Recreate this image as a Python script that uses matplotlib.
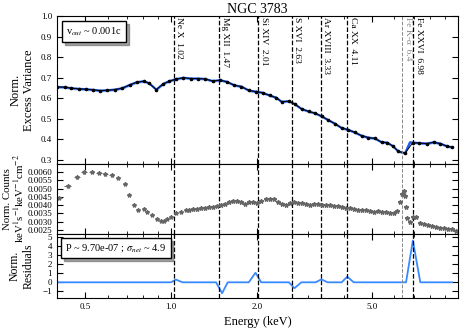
import matplotlib
matplotlib.use('Agg')
import matplotlib.pyplot as plt
import numpy as np

plt.rcParams['font.family'] = 'serif'
plt.rcParams['font.serif'] = ['Liberation Serif', 'DejaVu Serif']
plt.rcParams['mathtext.fontset'] = 'stix'

# excess variance (data) vs energy
var_e = [0.400, 0.425, 0.449, 0.476, 0.505, 0.535, 0.567, 0.598, 0.635, 0.675,
         0.717, 0.758, 0.804, 0.838, 0.888, 0.938, 0.984, 1.039, 1.102, 1.172,
         1.243, 1.312, 1.395, 1.481, 1.566, 1.662, 1.758, 1.865, 1.979, 2.083,
         2.203, 2.326, 2.427, 2.574, 2.695, 2.851, 3.017, 3.180, 3.350, 3.532,
         3.720, 3.926, 4.141, 4.370, 4.613, 4.864, 5.134, 5.420, 5.655, 5.923,
         6.194, 6.540, 6.960, 7.340, 7.790, 8.220, 8.670, 9.150, 9.530]
var_v = [0.655, 0.654, 0.649, 0.646, 0.644, 0.641, 0.637, 0.639, 0.642, 0.649,
         0.665, 0.678, 0.683, 0.673, 0.642, 0.670, 0.683, 0.693, 0.700, 0.696,
         0.696, 0.694, 0.684, 0.688, 0.680, 0.663, 0.657, 0.638, 0.632, 0.627,
         0.614, 0.603, 0.583, 0.586, 0.572, 0.548, 0.536, 0.527, 0.512, 0.494,
         0.477, 0.456, 0.447, 0.434, 0.418, 0.409, 0.405, 0.386, 0.385, 0.368,
         0.342, 0.333, 0.385, 0.382, 0.380, 0.386, 0.380, 0.367, 0.362]
# model adds a point just above the Fe K line
model_extra_e = 6.80
model_extra_v = 0.386
model_band = 0.006

# spectrum: low energy wide bins
spec_lo_e = [0.405, 0.436, 0.470, 0.496, 0.528, 0.560, 0.590, 0.620, 0.652, 0.689,
             0.713, 0.742, 0.768, 0.804, 0.826, 0.860, 0.895, 0.920, 0.945, 0.971,
             0.998, 1.039, 1.081, 1.126]
spec_lo_v = [0.00446, 0.00516, 0.00570, 0.00600, 0.00600, 0.00594, 0.00586, 0.00580,
             0.00566, 0.00530, 0.00464, 0.00400, 0.00374, 0.00380, 0.00360, 0.00340,
             0.00314, 0.00306, 0.00306, 0.00314, 0.00330, 0.00350, 0.00360, 0.00370]
spec_lo_xerr = [0.011, 0.013, 0.013, 0.012, 0.012, 0.012, 0.011, 0.011, 0.011, 0.009,
                0.007, 0.006, 0.006, 0.006, 0.005, 0.005, 0.005, 0.005, 0.005, 0.005,
                0.005, 0.005, 0.005, 0.005]
spec_lo_yerr = [0.00010, 0.00010, 0.00009, 0.00009, 0.00008, 0.00008, 0.00007, 0.00007,
                0.00007, 0.00006, 0.00006, 0.00005, 0.00005, 0.00005, 0.00004, 0.00004,
                0.00004, 0.00004, 0.00004, 0.00004, 0.00004, 0.00004, 0.00004, 0.00004]
# spectrum: dense bins
spec_e = [1.156, 1.194, 1.233, 1.273, 1.315, 1.358, 1.403, 1.449, 1.496, 1.545,
          1.596, 1.648, 1.702, 1.758, 1.816, 1.875, 1.936, 2.000, 2.065, 2.133,
          2.203, 2.275, 2.350, 2.427, 2.506, 2.588, 2.673, 2.761, 2.851, 2.944,
          3.041, 3.140, 3.243, 3.350, 3.459, 3.573, 3.690, 3.811, 3.936, 4.064,
          4.198, 4.335, 4.477, 4.624, 4.775, 4.932, 5.093, 5.260, 5.432, 5.610,
          5.794, 5.984, 6.130, 6.280, 6.380, 6.490, 6.540, 6.590, 6.660, 6.810,
          6.980, 7.140, 7.380, 7.620, 7.870, 8.130, 8.400, 8.670, 8.960, 9.250,
          9.550, 9.860]
spec_v = [0.00372, 0.00375, 0.00380, 0.00384, 0.00386, 0.00390, 0.00392, 0.00396, 0.00400, 0.00410,
          0.00420, 0.00428, 0.00426, 0.00418, 0.00408, 0.00418, 0.00420, 0.00414, 0.00428, 0.00436,
          0.00440, 0.00436, 0.00422, 0.00408, 0.00404, 0.00414, 0.00418, 0.00416, 0.00414, 0.00408,
          0.00404, 0.00406, 0.00410, 0.00404, 0.00402, 0.00400, 0.00398, 0.00394, 0.00392, 0.00386,
          0.00382, 0.00378, 0.00374, 0.00370, 0.00368, 0.00364, 0.00360, 0.00362, 0.00358, 0.00356,
          0.00352, 0.00354, 0.00362, 0.00420, 0.00470, 0.00488, 0.00455, 0.00390, 0.00320, 0.00300,
          0.00330, 0.00328, 0.00292, 0.00284, 0.00278, 0.00272, 0.00270, 0.00264, 0.00262, 0.00256,
          0.00254, 0.00246]

# residuals
res_e = [0.40, 0.998, 1.039, 1.095, 1.434, 1.505, 1.575, 1.865, 1.968, 2.06, 2.575, 2.69,
         2.843, 3.19, 3.34, 3.51, 3.93, 4.11, 4.33, 6.59, 6.96, 7.39, 9.54]
res_v = [0, 0, 0.3, 0, 0, -1.2, 0, 0, 1.05, 0, 0, -0.65, 0, 0, 0.33, 0, 0, 0.62, 0, 0, 4.6, 0, 0]

lines_e = [1.02, 1.47, 2.01, 2.63, 3.33, 4.11, 6.4, 6.98]
lines_lab = ['Ne X  1.02', 'Mg XII  1.47', 'Si XIV  2.01', 'S XVI  2.63',
             'Ar XVIII  3.33', 'Ca XX  4.11', 'Fe K-\u03b1  6.4', 'Fe XXVI  6.98']

fig = plt.figure(figsize=(4.63, 3.28), dpi=100)
L, W = 0.1231, 0.8661
ax1 = fig.add_axes([L, 0.5015, W, 0.4497])
ax2 = fig.add_axes([L, 0.2866, W, 0.2149], sharex=ax1)
ax3 = fig.add_axes([L, 0.0924, W, 0.1942], sharex=ax1)

# model curve
me = np.insert(np.array(var_e), 52, model_extra_e)
mv = np.insert(np.array(var_v), 52, model_extra_v)
ax1.fill_between(me, mv - model_band, mv + model_band, color='#8fc0ff', lw=0)
ax1.plot(me, mv, color='#1e5cf0', lw=1.6)
ax1.plot(var_e, var_v, color='k', lw=0.7, marker='o', ms=1.6)

ax2.errorbar(spec_lo_e, spec_lo_v, xerr=spec_lo_xerr, yerr=spec_lo_yerr, fmt='*',
             color='#666666', ms=3, elinewidth=0.7, capsize=0)
ax2.errorbar(spec_e, spec_v, yerr=0.00003, fmt='*', color='#666666', ms=3.2,
             elinewidth=0.6, capsize=0)

ax3.plot(res_e, res_v, color='#3a8aff', lw=1.3)

for ax in (ax1, ax2, ax3):
    for e in lines_e:
        if e == 6.4:
            ax.axvline(e, color='#888888', ls='--', lw=0.7)
        else:
            ax.axvline(e, color='k', ls='--', lw=0.9)
    ax.set_xscale('log')
    ax.tick_params(which='both', direction='in', top=True, right=True, labelsize=6.5)
    ax.tick_params(which='major', length=4)
    ax.tick_params(which='minor', length=2)

for e, lab in zip(lines_e, lines_lab):
    c = '#888888' if e == 6.4 else 'k'
    ax1.text(e * 1.012, 0.99, lab, rotation=270, ha='left', va='top', fontsize=6.8,
             color=c, transform=ax1.get_xaxis_transform())

ax1.set_xlim(0.4, 10)
ax1.set_xticks([0.5, 1.0, 2.0, 5.0])
ax1.set_xticklabels(['0.5', '1.0', '2.0', '5.0'])
plt.setp(ax1.get_xticklabels(), visible=False)
plt.setp(ax2.get_xticklabels(), visible=False)
ax1.set_ylim(0.283, 1.0)
ax1.set_yticks(np.arange(0.3, 1.01, 0.1))
ax2.set_ylim(0.00226, 0.00652)
ax2.set_yticks(np.arange(0.0025, 0.00601, 0.0005))
ax2.yaxis.set_major_formatter(matplotlib.ticker.FormatStrFormatter('%.4f'))
ax3.set_ylim(-1.69, 5.31)
ax3.set_yticks(range(-1, 6))

ax1.set_title('NGC 3783', fontsize=10, pad=2)
ax1.set_ylabel('Norm.\nExcess Variance', fontsize=9, labelpad=4)
ax2.set_ylabel('Norm. Counts\nkeV$^{1}$s$^{-1}$keV$^{-1}$cm$^{-2}$', fontsize=7.8,
               labelpad=1, linespacing=1.0)
ax3.set_ylabel('Norm.\nResiduals', fontsize=8.5, labelpad=6)
ax3.set_xlabel('Energy (keV)', fontsize=9, labelpad=4)

h = plt.Line2D([], [], ls='none')
ax1.legend([h], ['v$_{out}$ ~ 0.001c'], loc='upper left', handlelength=0, handletextpad=0,
           fancybox=False, shadow=True, edgecolor='k', fontsize=7.5, borderaxespad=0.5)
ax3.legend([h], ['P ~ 9.70e-07 ; $\\sigma_{net}$ ~ 4.9'], loc='upper left', handlelength=0,
           handletextpad=0, fancybox=False, shadow=True, edgecolor='k', fontsize=7.5,
           borderaxespad=0.4)

fig.savefig('out.png', dpi=100)
